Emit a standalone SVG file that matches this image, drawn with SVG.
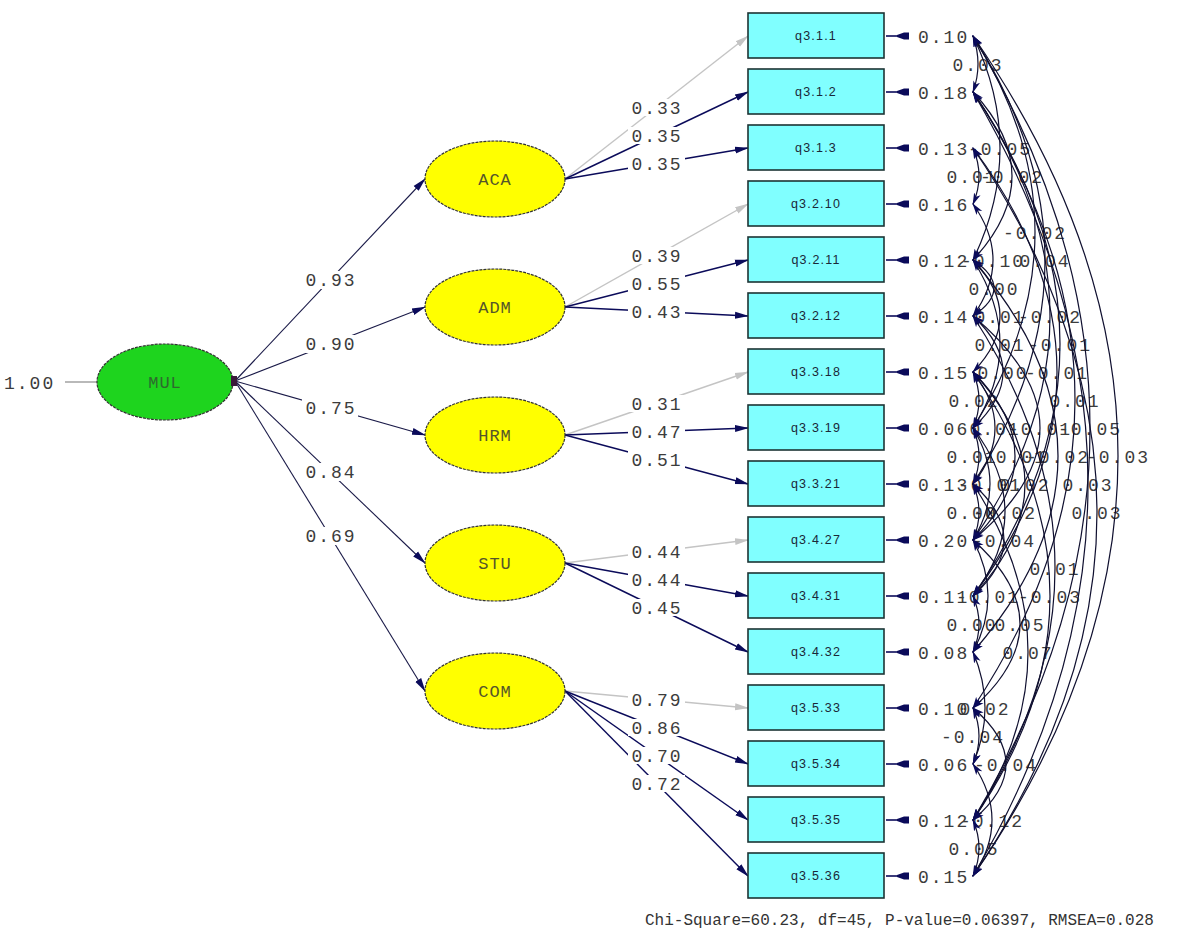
<svg xmlns="http://www.w3.org/2000/svg" xmlns:xlink="http://www.w3.org/1999/xlink" width="1185" height="947" viewBox="0 0 1185 947">
<style>
.lbl{font-family:"Liberation Mono",monospace;font-size:18px;letter-spacing:2px;fill:#3c3c3c;text-anchor:middle}
.var{font-family:"Liberation Mono",monospace;font-size:18px;letter-spacing:2px;fill:#3c3c3c}
.box{fill:#80ffff;stroke:#1c3434;stroke-width:1.6}
.bt{font-family:"Liberation Sans",Arial,sans-serif;font-size:12.5px;letter-spacing:1.2px;fill:#1a2838;text-anchor:middle}
.lat{fill:#ffff00;stroke:#333;stroke-width:1.2;stroke-dasharray:3 1}
.lt{font-family:"Liberation Mono",monospace;font-size:17px;letter-spacing:1px;fill:#55552a;text-anchor:middle}
.pd{stroke:#1a1a48;stroke-width:1.1;fill:none}
.ld{stroke:#0b0b5a;stroke-width:1.4;fill:none}
.lg{stroke:#c4c4c4;stroke-width:1.4;fill:none}
.bg{fill:#ffffff}
.arc{stroke:#101030;stroke-width:1.2;fill:none}
.eb{fill:#0b0b5a}
.el{stroke:#0b0b5a;stroke-width:1.6}
</style>
<defs>
<marker id="ad" viewBox="0 0 14 10" refX="13" refY="5" markerWidth="14" markerHeight="10" markerUnits="userSpaceOnUse" orient="auto"><path d="M0,1.5 L14,5 L0,8.5 z" fill="#0b0b5a"/></marker>
<marker id="ag" viewBox="0 0 14 10" refX="13" refY="5" markerWidth="14" markerHeight="10" markerUnits="userSpaceOnUse" orient="auto"><path d="M0,1.5 L14,5 L0,8.5 z" fill="#c4c4c4"/></marker>
<marker id="ac" viewBox="0 0 12 8" refX="11" refY="4" markerWidth="12" markerHeight="8" markerUnits="userSpaceOnUse" orient="auto-start-reverse"><path d="M0,0.5 L12,4 L0,7.5 L3,4 z" fill="#0b0b5a"/></marker>
<path id="blob" d="M-12,-1 L-5,-3.5 L0,-3.5 L0,3.5 L-5,3.5 L-12,1 z"/>
</defs>
<rect width="1185" height="947" fill="#ffffff"/>

<g id="connectors">
<!-- MUL to latent -->
<line x1="65" y1="382" x2="97" y2="382" stroke="#8a8a8a" stroke-width="1.2"/>
<line x1="235" y1="381" x2="425" y2="179" class="pd" marker-end="url(#ad)"/>
<line x1="235" y1="381" x2="425" y2="307" class="pd" marker-end="url(#ad)"/>
<line x1="235" y1="381" x2="425" y2="435" class="pd" marker-end="url(#ad)"/>
<line x1="235" y1="381" x2="425" y2="563" class="pd" marker-end="url(#ad)"/>
<line x1="235" y1="381" x2="425" y2="691" class="pd" marker-end="url(#ad)"/>
<!-- latent to indicators -->
<line x1="565" y1="179" x2="748" y2="36" class="lg" marker-end="url(#ag)"/>
<line x1="565" y1="179" x2="748" y2="92" class="ld" marker-end="url(#ad)"/>
<line x1="565" y1="179" x2="748" y2="148" class="ld" marker-end="url(#ad)"/>
<line x1="565" y1="307" x2="748" y2="204" class="lg" marker-end="url(#ag)"/>
<line x1="565" y1="307" x2="748" y2="260" class="ld" marker-end="url(#ad)"/>
<line x1="565" y1="307" x2="748" y2="316" class="ld" marker-end="url(#ad)"/>
<line x1="565" y1="435" x2="748" y2="372" class="lg" marker-end="url(#ag)"/>
<line x1="565" y1="435" x2="748" y2="428" class="ld" marker-end="url(#ad)"/>
<line x1="565" y1="435" x2="748" y2="484" class="ld" marker-end="url(#ad)"/>
<line x1="565" y1="563" x2="748" y2="540" class="lg" marker-end="url(#ag)"/>
<line x1="565" y1="563" x2="748" y2="596" class="ld" marker-end="url(#ad)"/>
<line x1="565" y1="563" x2="748" y2="652" class="ld" marker-end="url(#ad)"/>
<line x1="565" y1="691" x2="748" y2="708" class="lg" marker-end="url(#ag)"/>
<line x1="565" y1="691" x2="748" y2="764" class="ld" marker-end="url(#ad)"/>
<line x1="565" y1="691" x2="748" y2="820" class="ld" marker-end="url(#ad)"/>
<line x1="565" y1="691" x2="748" y2="876" class="ld" marker-end="url(#ad)"/>
<!-- label backgrounds -->
<rect class="bg" x="302" y="271" width="56" height="18"/>
<rect class="bg" x="302" y="335" width="56" height="18"/>
<rect class="bg" x="302" y="399" width="56" height="18"/>
<rect class="bg" x="302" y="463" width="56" height="18"/>
<rect class="bg" x="302" y="527" width="56" height="18"/>
<rect class="bg" x="628" y="99" width="57" height="17"/>
<rect class="bg" x="628" y="127" width="57" height="17"/>
<rect class="bg" x="628" y="155" width="57" height="17"/>
<rect class="bg" x="628" y="247" width="57" height="17"/>
<rect class="bg" x="628" y="275" width="57" height="17"/>
<rect class="bg" x="628" y="303" width="57" height="17"/>
<rect class="bg" x="628" y="395" width="57" height="17"/>
<rect class="bg" x="628" y="423" width="57" height="17"/>
<rect class="bg" x="628" y="451" width="57" height="17"/>
<rect class="bg" x="628" y="543" width="57" height="17"/>
<rect class="bg" x="628" y="571" width="57" height="17"/>
<rect class="bg" x="628" y="599" width="57" height="17"/>
<rect class="bg" x="628" y="691" width="57" height="17"/>
<rect class="bg" x="628" y="719" width="57" height="17"/>
<rect class="bg" x="628" y="747" width="57" height="17"/>
<rect class="bg" x="628" y="775" width="57" height="17"/>
<!-- error arrows -->
<g class="el">
<line x1="886" y1="36" x2="900" y2="36"/><line x1="886" y1="92" x2="900" y2="92"/><line x1="886" y1="148" x2="900" y2="148"/><line x1="886" y1="204" x2="900" y2="204"/>
<line x1="886" y1="260" x2="900" y2="260"/><line x1="886" y1="316" x2="900" y2="316"/><line x1="886" y1="372" x2="900" y2="372"/><line x1="886" y1="428" x2="900" y2="428"/>
<line x1="886" y1="484" x2="900" y2="484"/><line x1="886" y1="540" x2="900" y2="540"/><line x1="886" y1="596" x2="900" y2="596"/><line x1="886" y1="652" x2="900" y2="652"/>
<line x1="886" y1="708" x2="900" y2="708"/><line x1="886" y1="764" x2="900" y2="764"/><line x1="886" y1="820" x2="900" y2="820"/><line x1="886" y1="876" x2="900" y2="876"/>
</g>
<g class="eb">
<use xlink:href="#blob" x="909" y="36"/><use xlink:href="#blob" x="909" y="92"/><use xlink:href="#blob" x="909" y="148"/><use xlink:href="#blob" x="909" y="204"/>
<use xlink:href="#blob" x="909" y="260"/><use xlink:href="#blob" x="909" y="316"/><use xlink:href="#blob" x="909" y="372"/><use xlink:href="#blob" x="909" y="428"/>
<use xlink:href="#blob" x="909" y="484"/><use xlink:href="#blob" x="909" y="540"/><use xlink:href="#blob" x="909" y="596"/><use xlink:href="#blob" x="909" y="652"/>
<use xlink:href="#blob" x="909" y="708"/><use xlink:href="#blob" x="909" y="764"/><use xlink:href="#blob" x="909" y="820"/><use xlink:href="#blob" x="909" y="876"/>
</g>
</g>

<g id="path-labels">
<text class="lbl" x="331" y="286">0.93</text>
<text class="lbl" x="331" y="350">0.90</text>
<text class="lbl" x="331" y="414">0.75</text>
<text class="lbl" x="331" y="478">0.84</text>
<text class="lbl" x="331" y="542">0.69</text>
<text class="lbl" x="657" y="114">0.33</text>
<text class="lbl" x="657" y="142">0.35</text>
<text class="lbl" x="657" y="170">0.35</text>
<text class="lbl" x="657" y="262">0.39</text>
<text class="lbl" x="657" y="290">0.55</text>
<text class="lbl" x="657" y="318">0.43</text>
<text class="lbl" x="657" y="410">0.31</text>
<text class="lbl" x="657" y="438">0.47</text>
<text class="lbl" x="657" y="466">0.51</text>
<text class="lbl" x="657" y="558">0.44</text>
<text class="lbl" x="657" y="586">0.44</text>
<text class="lbl" x="657" y="614">0.45</text>
<text class="lbl" x="657" y="706">0.79</text>
<text class="lbl" x="657" y="734">0.86</text>
<text class="lbl" x="657" y="762">0.70</text>
<text class="lbl" x="657" y="790">0.72</text>
<text class="var" x="4" y="389">1.00</text>
</g>

<g id="error-variances">
<text class="var" x="918" y="43">0.10</text>
<text class="var" x="918" y="99">0.18</text>
<text class="var" x="918" y="155">0.13</text>
<text class="var" x="918" y="211">0.16</text>
<text class="var" x="918" y="267">0.12</text>
<text class="var" x="918" y="323">0.14</text>
<text class="var" x="918" y="379">0.15</text>
<text class="var" x="918" y="435">0.06</text>
<text class="var" x="918" y="491">0.13</text>
<text class="var" x="918" y="547">0.20</text>
<text class="var" x="918" y="603">0.11</text>
<text class="var" x="918" y="659">0.08</text>
<text class="var" x="918" y="715">0.10</text>
<text class="var" x="918" y="771">0.06</text>
<text class="var" x="918" y="827">0.12</text>
<text class="var" x="918" y="883">0.15</text>
</g>

<g id="covariance-labels">
<text class="lbl" x="978" y="71">0.03</text>
<text class="lbl" x="1000" y="155">-0.05</text>
<text class="lbl" x="1012" y="183">-0.02</text>
<text class="lbl" x="972" y="183">0.01</text>
<text class="lbl" x="1035" y="239">-0.02</text>
<text class="lbl" x="993" y="267">-0.10</text>
<text class="lbl" x="1045" y="267">0.04</text>
<text class="lbl" x="994" y="295">0.00</text>
<text class="lbl" x="1000" y="323">0.01</text>
<text class="lbl" x="1050" y="323">-0.02</text>
<text class="lbl" x="1000" y="351">0.01</text>
<text class="lbl" x="1060" y="351">-0.01</text>
<text class="lbl" x="1003" y="379">0.00</text>
<text class="lbl" x="1057" y="379">-0.01</text>
<text class="lbl" x="974" y="407">0.02</text>
<text class="lbl" x="1075" y="407">0.01</text>
<text class="lbl" x="995" y="435">0.01</text>
<text class="lbl" x="1040" y="435">-0.01</text>
<text class="lbl" x="1090" y="435">-0.05</text>
<text class="lbl" x="972" y="463">0.01</text>
<text class="lbl" x="1015" y="463">-0.01</text>
<text class="lbl" x="1058" y="463">-0.02</text>
<text class="lbl" x="1118" y="463">-0.03</text>
<text class="lbl" x="990" y="491">-0.01</text>
<text class="lbl" x="1025" y="491">0.02</text>
<text class="lbl" x="1088" y="491">0.03</text>
<text class="lbl" x="972" y="519">0.00</text>
<text class="lbl" x="1005" y="519">-0.02</text>
<text class="lbl" x="1097" y="519">0.03</text>
<text class="lbl" x="1004" y="547">-0.04</text>
<text class="lbl" x="1055" y="575">0.01</text>
<text class="lbl" x="988" y="603">-0.01</text>
<text class="lbl" x="1050" y="603">-0.03</text>
<text class="lbl" x="972" y="631">0.00</text>
<text class="lbl" x="1020" y="631">0.05</text>
<text class="lbl" x="1028" y="659">0.07</text>
<text class="lbl" x="985" y="715">0.02</text>
<text class="lbl" x="973" y="743">-0.04</text>
<text class="lbl" x="1006" y="771">-0.04</text>
<text class="lbl" x="992" y="827">-0.12</text>
<text class="lbl" x="974" y="855">0.05</text>
</g>

<g id="covariances" marker-start="url(#ac)" marker-end="url(#ac)">
<path class="arc" d="M973,36 Q983,64 973,92" marker-start="url(#ac)" marker-end="url(#ac)"/>
<path class="arc" d="M973,36 Q1027,148 973,260" marker-start="url(#ac)" marker-end="url(#ac)"/>
<path class="arc" d="M973,92 Q1051,176 973,260" marker-start="url(#ac)" marker-end="url(#ac)"/>
<path class="arc" d="M973,148 Q985,176 973,204" marker-start="url(#ac)" marker-end="url(#ac)"/>
<path class="arc" d="M973,36 Q1097,232 973,428" marker-start="url(#ac)" marker-end="url(#ac)"/>
<path class="arc" d="M973,204 Q1013,260 973,316" marker-start="url(#ac)" marker-end="url(#ac)"/>
<path class="arc" d="M973,36 Q1117,260 973,484" marker-start="url(#ac)" marker-end="url(#ac)"/>
<path class="arc" d="M973,260 Q1015,288 973,316" marker-start="url(#ac)" marker-end="url(#ac)"/>
<path class="arc" d="M973,260 Q1027,316 973,372" marker-start="url(#ac)" marker-end="url(#ac)"/>
<path class="arc" d="M973,92 Q1127,316 973,540" marker-start="url(#ac)" marker-end="url(#ac)"/>
<path class="arc" d="M973,260 Q1027,344 973,428" marker-start="url(#ac)" marker-end="url(#ac)"/>
<path class="arc" d="M973,92 Q1147,344 973,596" marker-start="url(#ac)" marker-end="url(#ac)"/>
<path class="arc" d="M973,316 Q1033,372 973,428" marker-start="url(#ac)" marker-end="url(#ac)"/>
<path class="arc" d="M973,148 Q1141,372 973,596" marker-start="url(#ac)" marker-end="url(#ac)"/>
<path class="arc" d="M973,372 Q985,400 973,428" marker-start="url(#ac)" marker-end="url(#ac)"/>
<path class="arc" d="M973,92 Q1177,400 973,708" marker-start="url(#ac)" marker-end="url(#ac)"/>
<path class="arc" d="M973,372 Q1017,428 973,484" marker-start="url(#ac)" marker-end="url(#ac)"/>
<path class="arc" d="M973,316 Q1107,428 973,540" marker-start="url(#ac)" marker-end="url(#ac)"/>
<path class="arc" d="M973,36 Q1207,428 973,820" marker-start="url(#ac)" marker-end="url(#ac)"/>
<path class="arc" d="M973,428 Q985,456 973,484" marker-start="url(#ac)" marker-end="url(#ac)"/>
<path class="arc" d="M973,372 Q1057,456 973,540" marker-start="url(#ac)" marker-end="url(#ac)"/>
<path class="arc" d="M973,260 Q1143,456 973,652" marker-start="url(#ac)" marker-end="url(#ac)"/>
<path class="arc" d="M973,36 Q1263,456 973,876" marker-start="url(#ac)" marker-end="url(#ac)"/>
<path class="arc" d="M973,428 Q1007,484 973,540" marker-start="url(#ac)" marker-end="url(#ac)"/>
<path class="arc" d="M973,372 Q1077,484 973,596" marker-start="url(#ac)" marker-end="url(#ac)"/>
<path class="arc" d="M973,92 Q1203,484 973,876" marker-start="url(#ac)" marker-end="url(#ac)"/>
<path class="arc" d="M973,484 Q985,512 973,540" marker-start="url(#ac)" marker-end="url(#ac)"/>
<path class="arc" d="M973,428 Q1037,512 973,596" marker-start="url(#ac)" marker-end="url(#ac)"/>
<path class="arc" d="M973,148 Q1221,512 973,876" marker-start="url(#ac)" marker-end="url(#ac)"/>
<path class="arc" d="M973,484 Q1035,540 973,596" marker-start="url(#ac)" marker-end="url(#ac)"/>
<path class="arc" d="M973,316 Q1137,568 973,820" marker-start="url(#ac)" marker-end="url(#ac)"/>
<path class="arc" d="M973,540 Q1003,596 973,652" marker-start="url(#ac)" marker-end="url(#ac)"/>
<path class="arc" d="M973,372 Q1127,596 973,820" marker-start="url(#ac)" marker-end="url(#ac)"/>
<path class="arc" d="M973,596 Q985,624 973,652" marker-start="url(#ac)" marker-end="url(#ac)"/>
<path class="arc" d="M973,540 Q1067,624 973,708" marker-start="url(#ac)" marker-end="url(#ac)"/>
<path class="arc" d="M973,484 Q1083,652 973,820" marker-start="url(#ac)" marker-end="url(#ac)"/>
<path class="arc" d="M973,652 Q997,708 973,764" marker-start="url(#ac)" marker-end="url(#ac)"/>
<path class="arc" d="M973,708 Q985,736 973,764" marker-start="url(#ac)" marker-end="url(#ac)"/>
<path class="arc" d="M973,708 Q1039,764 973,820" marker-start="url(#ac)" marker-end="url(#ac)"/>
<path class="arc" d="M973,764 Q1011,820 973,876" marker-start="url(#ac)" marker-end="url(#ac)"/>
<path class="arc" d="M973,820 Q985,848 973,876" marker-start="url(#ac)" marker-end="url(#ac)"/>
</g>

<g id="MUL"><ellipse cx="165" cy="382" rx="68" ry="38" fill="#1ed41e" stroke="#333" stroke-width="1.2" stroke-dasharray="3 1"/><text class="lt" x="165" y="388" style="fill:#2e6a2e">MUL</text><rect x="231" y="376" width="6" height="10" fill="#3a1a3a"/></g>
<g id="ACA"><ellipse class="lat" cx="495" cy="179" rx="70" ry="38"/><text class="lt" x="495" y="185">ACA</text></g>
<g id="ADM"><ellipse class="lat" cx="495" cy="307" rx="70" ry="38"/><text class="lt" x="495" y="313">ADM</text></g>
<g id="HRM"><ellipse class="lat" cx="495" cy="435" rx="70" ry="38"/><text class="lt" x="495" y="441">HRM</text></g>
<g id="STU"><ellipse class="lat" cx="495" cy="563" rx="70" ry="38"/><text class="lt" x="495" y="569">STU</text></g>
<g id="COM"><ellipse class="lat" cx="495" cy="691" rx="70" ry="38"/><text class="lt" x="495" y="697">COM</text></g>

<g id="q3_1_1"><rect class="box" x="748" y="13" width="136" height="45"/><text class="bt" x="816" y="40">q3.1.1</text></g>
<g id="q3_1_2"><rect class="box" x="748" y="69" width="136" height="45"/><text class="bt" x="816" y="96">q3.1.2</text></g>
<g id="q3_1_3"><rect class="box" x="748" y="125" width="136" height="45"/><text class="bt" x="816" y="152">q3.1.3</text></g>
<g id="q3_2_10"><rect class="box" x="748" y="181" width="136" height="45"/><text class="bt" x="816" y="208">q3.2.10</text></g>
<g id="q3_2_11"><rect class="box" x="748" y="237" width="136" height="45"/><text class="bt" x="816" y="264">q3.2.11</text></g>
<g id="q3_2_12"><rect class="box" x="748" y="293" width="136" height="45"/><text class="bt" x="816" y="320">q3.2.12</text></g>
<g id="q3_3_18"><rect class="box" x="748" y="349" width="136" height="45"/><text class="bt" x="816" y="376">q3.3.18</text></g>
<g id="q3_3_19"><rect class="box" x="748" y="405" width="136" height="45"/><text class="bt" x="816" y="432">q3.3.19</text></g>
<g id="q3_3_21"><rect class="box" x="748" y="461" width="136" height="45"/><text class="bt" x="816" y="488">q3.3.21</text></g>
<g id="q3_4_27"><rect class="box" x="748" y="517" width="136" height="45"/><text class="bt" x="816" y="544">q3.4.27</text></g>
<g id="q3_4_31"><rect class="box" x="748" y="573" width="136" height="45"/><text class="bt" x="816" y="600">q3.4.31</text></g>
<g id="q3_4_32"><rect class="box" x="748" y="629" width="136" height="45"/><text class="bt" x="816" y="656">q3.4.32</text></g>
<g id="q3_5_33"><rect class="box" x="748" y="685" width="136" height="45"/><text class="bt" x="816" y="712">q3.5.33</text></g>
<g id="q3_5_34"><rect class="box" x="748" y="741" width="136" height="45"/><text class="bt" x="816" y="768">q3.5.34</text></g>
<g id="q3_5_35"><rect class="box" x="748" y="797" width="136" height="45"/><text class="bt" x="816" y="824">q3.5.35</text></g>
<g id="q3_5_36"><rect class="box" x="748" y="853" width="136" height="45"/><text class="bt" x="816" y="880">q3.5.36</text></g>

<text x="645" y="925" style="font-family:'Liberation Mono',monospace;font-size:16px;fill:#333">Chi-Square=60.23, df=45, P-value=0.06397, RMSEA=0.028</text>
</svg>
